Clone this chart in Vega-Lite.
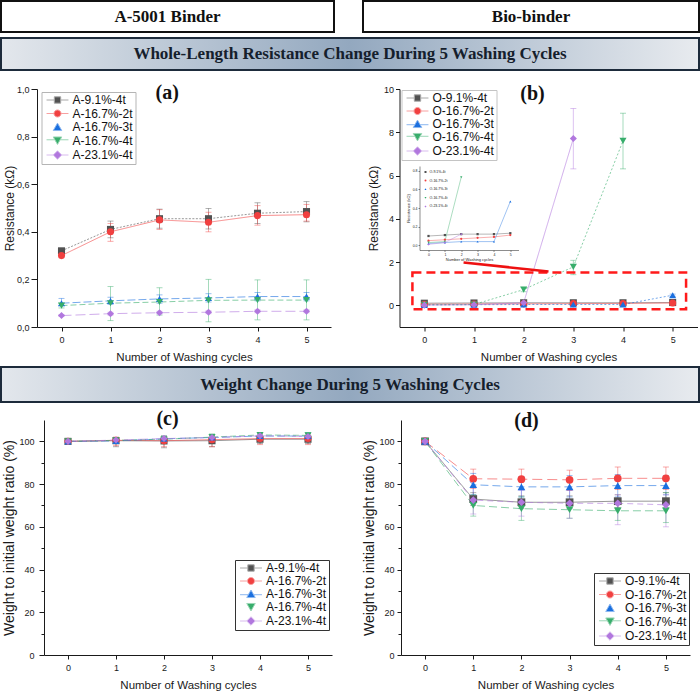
{
  "$schema": "https://vega.github.io/schema/vega-lite/v6.json",
  "background": "white",
  "padding": 0,
  "config": {
    "view": {"stroke": null},
    "font": "Liberation Sans",
    "axis": {"labelFont": "Liberation Sans", "titleFont": "Liberation Sans", "labelFontSize": 9, "titleFontSize": 11.5, "titleFontWeight": "normal", "labelColor": "#1a1a1a", "titleColor": "#1a1a1a", "domainColor": "#1a1a1a", "tickColor": "#1a1a1a", "grid": false},
    "legend": {"labelFont": "Liberation Sans", "labelFontSize": 12, "labelColor": "#111111"},
    "title": {"font": "Liberation Serif", "fontWeight": "bold", "fontSize": 20, "color": "#111111", "anchor": "middle", "frame": "bounds", "baseline": "middle"}
  },
  "datasets": {
    "a": [
      {"s": "A-9.1%-4t", "c": 0, "v": 0.32, "lo": 0.31, "hi": 0.33},
      {"s": "A-9.1%-4t", "c": 1, "v": 0.41, "lo": 0.375, "hi": 0.445},
      {"s": "A-9.1%-4t", "c": 2, "v": 0.455, "lo": 0.415, "hi": 0.495},
      {"s": "A-9.1%-4t", "c": 3, "v": 0.455, "lo": 0.412, "hi": 0.498},
      {"s": "A-9.1%-4t", "c": 4, "v": 0.478, "lo": 0.435, "hi": 0.522},
      {"s": "A-9.1%-4t", "c": 5, "v": 0.485, "lo": 0.442, "hi": 0.527},
      {"s": "A-16.7%-2t", "c": 0, "v": 0.30, "lo": 0.295, "hi": 0.305},
      {"s": "A-16.7%-2t", "c": 1, "v": 0.40, "lo": 0.36, "hi": 0.435},
      {"s": "A-16.7%-2t", "c": 2, "v": 0.45, "lo": 0.41, "hi": 0.493},
      {"s": "A-16.7%-2t", "c": 3, "v": 0.44, "lo": 0.40, "hi": 0.482},
      {"s": "A-16.7%-2t", "c": 4, "v": 0.468, "lo": 0.428, "hi": 0.51},
      {"s": "A-16.7%-2t", "c": 5, "v": 0.472, "lo": 0.445, "hi": 0.515},
      {"s": "A-16.7%-3t", "c": 0, "v": 0.10, "lo": 0.09, "hi": 0.12},
      {"s": "A-16.7%-3t", "c": 1, "v": 0.11, "lo": 0.095, "hi": 0.125},
      {"s": "A-16.7%-3t", "c": 2, "v": 0.118, "lo": 0.10, "hi": 0.135},
      {"s": "A-16.7%-3t", "c": 3, "v": 0.122, "lo": 0.105, "hi": 0.14},
      {"s": "A-16.7%-3t", "c": 4, "v": 0.128, "lo": 0.11, "hi": 0.145},
      {"s": "A-16.7%-3t", "c": 5, "v": 0.128, "lo": 0.11, "hi": 0.145},
      {"s": "A-16.7%-4t", "c": 0, "v": 0.09, "lo": 0.08, "hi": 0.10},
      {"s": "A-16.7%-4t", "c": 1, "v": 0.10, "lo": 0.027, "hi": 0.17},
      {"s": "A-16.7%-4t", "c": 2, "v": 0.105, "lo": 0.05, "hi": 0.165},
      {"s": "A-16.7%-4t", "c": 3, "v": 0.112, "lo": 0.022, "hi": 0.20},
      {"s": "A-16.7%-4t", "c": 4, "v": 0.113, "lo": 0.03, "hi": 0.198},
      {"s": "A-16.7%-4t", "c": 5, "v": 0.113, "lo": 0.03, "hi": 0.198},
      {"s": "A-23.1%-4t", "c": 0, "v": 0.048, "lo": 0.045, "hi": 0.052},
      {"s": "A-23.1%-4t", "c": 1, "v": 0.056, "lo": 0.05, "hi": 0.062},
      {"s": "A-23.1%-4t", "c": 2, "v": 0.06, "lo": 0.055, "hi": 0.066},
      {"s": "A-23.1%-4t", "c": 3, "v": 0.062, "lo": 0.056, "hi": 0.068},
      {"s": "A-23.1%-4t", "c": 4, "v": 0.066, "lo": 0.06, "hi": 0.072},
      {"s": "A-23.1%-4t", "c": 5, "v": 0.066, "lo": 0.06, "hi": 0.072}
    ],
    "b": [
      {"s": "O-9.1%-4t", "c": 0, "v": 0.10, "lo": 0.09, "hi": 0.11},
      {"s": "O-9.1%-4t", "c": 1, "v": 0.11, "lo": 0.10, "hi": 0.12},
      {"s": "O-9.1%-4t", "c": 2, "v": 0.12, "lo": 0.11, "hi": 0.13},
      {"s": "O-9.1%-4t", "c": 3, "v": 0.12, "lo": 0.11, "hi": 0.13},
      {"s": "O-9.1%-4t", "c": 4, "v": 0.12, "lo": 0.11, "hi": 0.13},
      {"s": "O-9.1%-4t", "c": 5, "v": 0.13, "lo": 0.12, "hi": 0.14},
      {"s": "O-16.7%-2t", "c": 0, "v": 0.05, "lo": 0.04, "hi": 0.06},
      {"s": "O-16.7%-2t", "c": 1, "v": 0.06, "lo": 0.05, "hi": 0.07},
      {"s": "O-16.7%-2t", "c": 2, "v": 0.07, "lo": 0.06, "hi": 0.08},
      {"s": "O-16.7%-2t", "c": 3, "v": 0.08, "lo": 0.07, "hi": 0.09},
      {"s": "O-16.7%-2t", "c": 4, "v": 0.09, "lo": 0.08, "hi": 0.10},
      {"s": "O-16.7%-2t", "c": 5, "v": 0.11, "lo": 0.10, "hi": 0.12},
      {"s": "O-16.7%-3t", "c": 0, "v": 0.02, "lo": 0.01, "hi": 0.03},
      {"s": "O-16.7%-3t", "c": 1, "v": 0.03, "lo": 0.02, "hi": 0.04},
      {"s": "O-16.7%-3t", "c": 2, "v": 0.04, "lo": 0.03, "hi": 0.05},
      {"s": "O-16.7%-3t", "c": 3, "v": 0.04, "lo": 0.03, "hi": 0.05},
      {"s": "O-16.7%-3t", "c": 4, "v": 0.04, "lo": 0.03, "hi": 0.05},
      {"s": "O-16.7%-3t", "c": 5, "v": 0.47, "lo": 0.42, "hi": 0.52},
      {"s": "O-16.7%-4t", "c": 0, "v": 0.03, "lo": 0.02, "hi": 0.04},
      {"s": "O-16.7%-4t", "c": 1, "v": 0.04, "lo": 0.03, "hi": 0.05},
      {"s": "O-16.7%-4t", "c": 2, "v": 0.73, "lo": 0.63, "hi": 0.83},
      {"s": "O-16.7%-4t", "c": 3, "v": 1.78, "lo": 1.42, "hi": 2.08},
      {"s": "O-16.7%-4t", "c": 4, "v": 7.6, "lo": 6.31, "hi": 8.88},
      {"s": "O-23.1%-4t", "c": 0, "v": 0.01, "lo": 0.0, "hi": 0.02},
      {"s": "O-23.1%-4t", "c": 1, "v": 0.03, "lo": 0.02, "hi": 0.04},
      {"s": "O-23.1%-4t", "c": 2, "v": 0.12, "lo": 0.10, "hi": 0.14},
      {"s": "O-23.1%-4t", "c": 3, "v": 7.71, "lo": 6.31, "hi": 9.1}
    ],
    "c": [
      {"s": "A-9.1%-4t", "c": 0, "v": 100, "lo": 99.8, "hi": 100.2},
      {"s": "A-9.1%-4t", "c": 1, "v": 100.3, "lo": 97.5, "hi": 101.5},
      {"s": "A-9.1%-4t", "c": 2, "v": 100.2, "lo": 97, "hi": 102},
      {"s": "A-9.1%-4t", "c": 3, "v": 100.3, "lo": 97.5, "hi": 102.5},
      {"s": "A-9.1%-4t", "c": 4, "v": 101, "lo": 99, "hi": 102.5},
      {"s": "A-9.1%-4t", "c": 5, "v": 101, "lo": 99, "hi": 102.5},
      {"s": "A-16.7%-2t", "c": 0, "v": 100, "lo": 99.8, "hi": 100.2},
      {"s": "A-16.7%-2t", "c": 1, "v": 100.5, "lo": 98, "hi": 102},
      {"s": "A-16.7%-2t", "c": 2, "v": 100.3, "lo": 97.5, "hi": 102.5},
      {"s": "A-16.7%-2t", "c": 3, "v": 100.8, "lo": 97.5, "hi": 103},
      {"s": "A-16.7%-2t", "c": 4, "v": 101.3, "lo": 98.5, "hi": 103.5},
      {"s": "A-16.7%-2t", "c": 5, "v": 101.3, "lo": 98.5, "hi": 103.5},
      {"s": "A-16.7%-3t", "c": 0, "v": 100, "lo": 99.8, "hi": 100.2},
      {"s": "A-16.7%-3t", "c": 1, "v": 100.2, "lo": 99, "hi": 101.5},
      {"s": "A-16.7%-3t", "c": 2, "v": 101.2, "lo": 100, "hi": 102.5},
      {"s": "A-16.7%-3t", "c": 3, "v": 101.8, "lo": 100.5, "hi": 103},
      {"s": "A-16.7%-3t", "c": 4, "v": 102.5, "lo": 101, "hi": 104},
      {"s": "A-16.7%-3t", "c": 5, "v": 102.5, "lo": 101, "hi": 104},
      {"s": "A-16.7%-4t", "c": 0, "v": 100, "lo": 99.8, "hi": 100.2},
      {"s": "A-16.7%-4t", "c": 1, "v": 100.5, "lo": 99.5, "hi": 101.5},
      {"s": "A-16.7%-4t", "c": 2, "v": 101, "lo": 99, "hi": 102.5},
      {"s": "A-16.7%-4t", "c": 3, "v": 102, "lo": 100.5, "hi": 103.5},
      {"s": "A-16.7%-4t", "c": 4, "v": 103, "lo": 101.5, "hi": 104},
      {"s": "A-16.7%-4t", "c": 5, "v": 102.8, "lo": 101.5, "hi": 104},
      {"s": "A-23.1%-4t", "c": 0, "v": 100, "lo": 99.8, "hi": 100.2},
      {"s": "A-23.1%-4t", "c": 1, "v": 100.6, "lo": 99.8, "hi": 101.4},
      {"s": "A-23.1%-4t", "c": 2, "v": 101.3, "lo": 100.5, "hi": 102},
      {"s": "A-23.1%-4t", "c": 3, "v": 101.8, "lo": 101, "hi": 102.6},
      {"s": "A-23.1%-4t", "c": 4, "v": 102.6, "lo": 101.8, "hi": 103.4},
      {"s": "A-23.1%-4t", "c": 5, "v": 102.3, "lo": 101.5, "hi": 103}
    ],
    "d": [
      {"s": "O-9.1%-4t", "c": 0, "v": 100, "lo": 99.5, "hi": 100.5},
      {"s": "O-9.1%-4t", "c": 1, "v": 73, "lo": 70, "hi": 76},
      {"s": "O-9.1%-4t", "c": 2, "v": 71.5, "lo": 68.5, "hi": 74.5},
      {"s": "O-9.1%-4t", "c": 3, "v": 71.5, "lo": 68.5, "hi": 74.5},
      {"s": "O-9.1%-4t", "c": 4, "v": 72, "lo": 69, "hi": 75},
      {"s": "O-9.1%-4t", "c": 5, "v": 72, "lo": 69, "hi": 76},
      {"s": "O-16.7%-2t", "c": 0, "v": 100, "lo": 99.5, "hi": 100.5},
      {"s": "O-16.7%-2t", "c": 1, "v": 82.5, "lo": 78, "hi": 87},
      {"s": "O-16.7%-2t", "c": 2, "v": 82.3, "lo": 77.5, "hi": 87},
      {"s": "O-16.7%-2t", "c": 3, "v": 82, "lo": 77, "hi": 86.5},
      {"s": "O-16.7%-2t", "c": 4, "v": 82.7, "lo": 77.5, "hi": 88},
      {"s": "O-16.7%-2t", "c": 5, "v": 82.7, "lo": 77.5, "hi": 88},
      {"s": "O-16.7%-3t", "c": 0, "v": 100, "lo": 99.5, "hi": 100.5},
      {"s": "O-16.7%-3t", "c": 1, "v": 79.7, "lo": 75, "hi": 85},
      {"s": "O-16.7%-3t", "c": 2, "v": 78.7, "lo": 74, "hi": 83.5},
      {"s": "O-16.7%-3t", "c": 3, "v": 78.7, "lo": 74, "hi": 84},
      {"s": "O-16.7%-3t", "c": 4, "v": 79.3, "lo": 74, "hi": 84.5},
      {"s": "O-16.7%-3t", "c": 5, "v": 79.3, "lo": 75, "hi": 84},
      {"s": "O-16.7%-4t", "c": 0, "v": 100, "lo": 99.5, "hi": 100.5},
      {"s": "O-16.7%-4t", "c": 1, "v": 70, "lo": 65, "hi": 75},
      {"s": "O-16.7%-4t", "c": 2, "v": 68.5, "lo": 63, "hi": 74},
      {"s": "O-16.7%-4t", "c": 3, "v": 68, "lo": 64, "hi": 72},
      {"s": "O-16.7%-4t", "c": 4, "v": 67.5, "lo": 63, "hi": 72},
      {"s": "O-16.7%-4t", "c": 5, "v": 67.5, "lo": 62, "hi": 76},
      {"s": "O-23.1%-4t", "c": 0, "v": 100, "lo": 99.5, "hi": 100.5},
      {"s": "O-23.1%-4t", "c": 1, "v": 72.5, "lo": 66, "hi": 79},
      {"s": "O-23.1%-4t", "c": 2, "v": 71.5, "lo": 65, "hi": 77},
      {"s": "O-23.1%-4t", "c": 3, "v": 71, "lo": 64, "hi": 77},
      {"s": "O-23.1%-4t", "c": 4, "v": 71, "lo": 61, "hi": 75},
      {"s": "O-23.1%-4t", "c": 5, "v": 70.3, "lo": 60, "hi": 75}
    ],
    "zoomBox": [{"x1": -0.24, "x2": 5.27, "y1": -0.18, "y2": 1.52}],
    "pointer": [{"x1": 0.79, "y1": 1.98, "x2": 2.5, "y2": 1.57}]
  },
  "spacing": 3,
  "resolve": {"scale": {"color": "independent", "shape": "independent", "stroke": "independent", "strokeDash": "independent"}, "legend": {"color": "independent", "shape": "independent", "stroke": "independent", "strokeDash": "independent"}},
  "vconcat": [
    {
      "spacing": 11,
      "resolve": {"scale": {"color": "independent", "shape": "independent", "stroke": "independent", "strokeDash": "independent"}, "legend": {"color": "independent", "shape": "independent", "stroke": "independent", "strokeDash": "independent"}},
      "vconcat": [
        {
          "spacing": 4,
          "vconcat": [
            {
              "spacing": 27,
              "hconcat": [
                {
                  "width": 333, "height": 31,
                  "view": {"stroke": "#111111", "strokeWidth": 2, "fill": "white"},
                  "data": {"values": [{"label": "A-5001 Binder"}]},
                  "mark": {"type": "text", "font": "Liberation Serif", "fontWeight": "bold", "fontSize": 17, "color": "#111111"},
                  "encoding": {"text": {"field": "label"}}
                },
                {
                  "width": 336, "height": 31,
                  "view": {"stroke": "#111111", "strokeWidth": 2, "fill": "white"},
                  "data": {"values": [{"label": "Bio-binder"}]},
                  "mark": {"type": "text", "font": "Liberation Serif", "fontWeight": "bold", "fontSize": 17, "color": "#111111"},
                  "encoding": {"text": {"field": "label"}}
                }
              ]
            },
            {
              "width": 698, "height": 32,
              "data": {"values": [{"t": "Whole-Length Resistance Change During 5 Washing Cycles", "u0": 0, "u1": 1}]},
              "layer": [
                {
                  "mark": {"type": "rect", "stroke": "#1d2b3b", "strokeWidth": 2, "fill": {"gradient": "linear", "x1": 0, "y1": 0, "x2": 1, "y2": 0, "stops": [{"offset": 0, "color": "#e3e7ec"}, {"offset": 0.5, "color": "#93a8bf"}, {"offset": 1, "color": "#e8ebef"}]}},
                  "encoding": {
                    "x": {"field": "u0", "type": "quantitative", "scale": {"domain": [0, 1], "nice": false, "zero": false}, "axis": null},
                    "x2": {"field": "u1"},
                    "y": {"field": "u0", "type": "quantitative", "scale": {"domain": [0, 1], "nice": false, "zero": false}, "axis": null},
                    "y2": {"field": "u1"}
                  }
                },
                {
                  "mark": {"type": "text", "font": "Liberation Serif", "fontWeight": "bold", "fontSize": 17, "color": "#15202c"},
                  "encoding": {"text": {"field": "t"}}
                }
              ]
            }
          ]
        },
        {
          "spacing": 35.5,
          "resolve": {"scale": {"color": "independent", "shape": "independent", "stroke": "independent", "strokeDash": "independent"}, "legend": {"color": "independent", "shape": "independent", "stroke": "independent", "strokeDash": "independent"}},
          "hconcat": [
            {
              "spacing": 0,
              "resolve": {"scale": {"color": "independent", "shape": "independent", "stroke": "independent", "strokeDash": "independent"}, "legend": {"color": "independent", "shape": "independent", "stroke": "independent", "strokeDash": "independent"}},
              "hconcat": [
                {"width": 2, "height": 238, "data": {"values": []}, "mark": "point"},
                {
                  "width": 294, "height": 238,
                  "title": {"text": "(a)", "offset": -17.5},
                  "data": {"name": "a"},
                  "resolve": {"scale": {"color": "independent", "shape": "independent", "stroke": "independent"}, "legend": {"color": "independent", "shape": "independent", "stroke": "independent"}},
                  "layer": [
                    {
                      "layer": [
                        {
                          "mark": {"type": "rule", "strokeWidth": 1, "opacity": 0.45},
                          "encoding": {
                            "x": {"field": "c", "type": "quantitative", "scale": {"domain": [-0.5, 5.5], "nice": false, "zero": false}, "axis": {"values": [0, 1, 2, 3, 4, 5], "format": "d", "title": "Number of Washing cycles", "tickSize": 4, "labelPadding": 4, "titlePadding": 7}},
                            "y": {"field": "lo", "type": "quantitative", "scale": {"domain": [0, 1], "nice": false, "zero": false}, "axis": {"values": [0, 0.2, 0.4, 0.6, 0.8, 1], "labelExpr": "replace(format(datum.value, '.1f'), '.', ',')", "title": "Resistance (kΩ)", "titleFontSize": 12, "tickSize": 6, "labelPadding": 2, "titlePadding": 0}},
                            "y2": {"field": "hi"},
                            "color": {"field": "s", "type": "nominal", "scale": {"domain": ["A-9.1%-4t", "A-16.7%-2t", "A-16.7%-3t", "A-16.7%-4t", "A-23.1%-4t"], "range": ["#515151", "#F14040", "#1A6FDF", "#37AD6B", "#B177DE"]}, "legend": null}
                          }
                        },
                        {
                          "mark": {"type": "tick", "orient": "horizontal", "size": 6, "thickness": 1, "opacity": 0.45},
                          "encoding": {"x": {"field": "c", "type": "quantitative"}, "y": {"field": "lo", "type": "quantitative"}, "color": {"field": "s", "type": "nominal", "legend": null}}
                        },
                        {
                          "mark": {"type": "tick", "orient": "horizontal", "size": 6, "thickness": 1, "opacity": 0.45},
                          "encoding": {"x": {"field": "c", "type": "quantitative"}, "y": {"field": "hi", "type": "quantitative"}, "color": {"field": "s", "type": "nominal", "legend": null}}
                        },
                        {
                          "mark": {"type": "line", "strokeWidth": 1, "opacity": 0.6},
                          "encoding": {
                            "x": {"field": "c", "type": "quantitative"},
                            "y": {"field": "v", "type": "quantitative"},
                            "color": {"field": "s", "type": "nominal", "legend": null},
                            "strokeDash": {"field": "s", "type": "nominal", "scale": {"domain": ["A-23.1%-4t", "A-16.7%-4t", "A-16.7%-3t", "A-16.7%-2t", "A-9.1%-4t"], "range": [[10, 4], [6, 3], [8, 3], [1, 0], [2, 1.5]]}, "legend": null}
                          }
                        },
                        {
                          "mark": {"type": "point", "filled": true, "size": 50, "opacity": 1},
                          "encoding": {
                            "x": {"field": "c", "type": "quantitative"},
                            "y": {"field": "v", "type": "quantitative"},
                            "color": {"field": "s", "type": "nominal", "legend": null},
                            "shape": {"field": "s", "type": "nominal", "scale": {"domain": ["A-9.1%-4t", "A-16.7%-2t", "A-16.7%-3t", "A-16.7%-4t", "A-23.1%-4t"], "range": ["square", "circle", "triangle-up", "triangle-down", "diamond"]}, "legend": null}
                          }
                        }
                      ]
                    },
                    {
                      "mark": {"type": "point", "filled": true, "size": 50, "opacity": 0},
                      "encoding": {
                        "color": {"field": "s", "type": "nominal", "scale": {"domain": ["A-9.1%-4t", "A-16.7%-2t", "A-16.7%-3t", "A-16.7%-4t", "A-23.1%-4t"], "range": ["#515151", "#F14040", "#1A6FDF", "#37AD6B", "#B177DE"]},
                          "legend": {"orient": "none", "legendX": 4.5, "legendY": 3, "title": null, "strokeColor": "#b5b5b5", "fillColor": "white", "padding": 2, "rowPadding": 1.5, "symbolSize": 50, "symbolOffset": 8, "labelOffset": 9, "symbolOpacity": 1, "symbolStrokeWidth": 1}},
                        "shape": {"field": "s", "type": "nominal", "scale": {"domain": ["A-9.1%-4t", "A-16.7%-2t", "A-16.7%-3t", "A-16.7%-4t", "A-23.1%-4t"], "range": ["M-3.1,0H-0.9M0.9,0H3.1M-0.9,-0.9H0.9V0.9H-0.9Z", "M-3.1,0H-1M1,0H3.1M1,0A1,1,0,1,1,-1,0A1,1,0,1,1,1,0Z", "M0,-1.1L1.2,1H-1.2Z", "M-3.1,-0.2H-0.8M0.8,-0.2H3.1M0,1.1L1.2,-1H-1.2Z", "M-3.1,0H-1.2M1.2,0H3.1M0,-1.2L1.2,0L0,1.2L-1.2,0Z"]},
                          "legend": {"orient": "none", "legendX": 4.5, "legendY": 3, "title": null, "strokeColor": "#b5b5b5", "fillColor": "white", "padding": 2, "rowPadding": 1.5, "symbolSize": 50, "symbolOffset": 8, "labelOffset": 9, "symbolOpacity": 1, "symbolStrokeWidth": 1}},
                        "stroke": {"field": "s", "type": "nominal", "scale": {"domain": ["A-9.1%-4t", "A-16.7%-2t", "A-16.7%-3t", "A-16.7%-4t", "A-23.1%-4t"], "range": ["#a8a8a8", "#f8a0a0", "#8cb7ef", "#9bd6b5", "#d8bbee"]},
                          "legend": {"orient": "none", "legendX": 4.5, "legendY": 3, "title": null, "strokeColor": "#b5b5b5", "fillColor": "white", "padding": 2, "rowPadding": 1.5, "symbolSize": 50, "symbolOffset": 8, "labelOffset": 9, "symbolOpacity": 1, "symbolStrokeWidth": 1}}
                      }
                    }
                  ]
                }
              ]
            },
            {
              "width": 298, "height": 238,
              "title": {"text": "(b)", "offset": -18.5},
              "resolve": {"scale": {"x": "independent", "y": "independent", "color": "independent", "shape": "independent", "stroke": "independent", "strokeDash": "independent"}, "axis": {"x": "independent", "y": "independent"}, "legend": {"color": "independent", "shape": "independent", "stroke": "independent"}},
              "layer": [
                {
                  "layer": [
                    {
                      "data": {"name": "b"},
                      "mark": {"type": "rule", "strokeWidth": 1, "opacity": 0.45},
                      "encoding": {
                        "x": {"field": "c", "type": "quantitative", "scale": {"domain": [-0.5, 5.5], "nice": false, "zero": false}, "axis": {"values": [0, 1, 2, 3, 4, 5], "format": "d", "title": "Number of Washing cycles", "tickSize": 4, "labelPadding": 4, "titlePadding": 7}},
                        "y": {"field": "lo", "type": "quantitative", "scale": {"domain": [-1, 10], "nice": false, "zero": false}, "axis": {"values": [0, 2, 4, 6, 8, 10], "format": "d", "title": "Resistance (kΩ)", "titleFontSize": 12, "tickSize": 4, "labelPadding": 2, "titlePadding": 3}},
                        "y2": {"field": "hi"},
                        "color": {"field": "s", "type": "nominal", "scale": {"domain": ["O-9.1%-4t", "O-16.7%-2t", "O-16.7%-3t", "O-16.7%-4t", "O-23.1%-4t"], "range": ["#515151", "#F14040", "#1A6FDF", "#37AD6B", "#B177DE"]}, "legend": null}
                      }
                    },
                    {
                      "data": {"name": "b"},
                      "mark": {"type": "tick", "orient": "horizontal", "size": 6, "thickness": 1, "opacity": 0.45},
                      "encoding": {"x": {"field": "c", "type": "quantitative"}, "y": {"field": "lo", "type": "quantitative"}, "color": {"field": "s", "type": "nominal", "legend": null}}
                    },
                    {
                      "data": {"name": "b"},
                      "mark": {"type": "tick", "orient": "horizontal", "size": 6, "thickness": 1, "opacity": 0.45},
                      "encoding": {"x": {"field": "c", "type": "quantitative"}, "y": {"field": "hi", "type": "quantitative"}, "color": {"field": "s", "type": "nominal", "legend": null}}
                    },
                    {
                      "data": {"name": "b"},
                      "mark": {"type": "line", "strokeWidth": 1, "opacity": 0.6},
                      "encoding": {
                        "x": {"field": "c", "type": "quantitative"},
                        "y": {"field": "v", "type": "quantitative"},
                        "color": {"field": "s", "type": "nominal", "legend": null},
                        "strokeDash": {"field": "s", "type": "nominal", "scale": {"domain": ["O-23.1%-4t", "O-16.7%-4t", "O-16.7%-3t", "O-16.7%-2t", "O-9.1%-4t"], "range": [[1, 0], [2, 2], [2, 2], [1, 0], [1, 0]]}, "legend": null}
                      }
                    },
                    {
                      "data": {"name": "b"},
                      "mark": {"type": "point", "filled": true, "size": 50, "opacity": 1},
                      "encoding": {
                        "x": {"field": "c", "type": "quantitative"},
                        "y": {"field": "v", "type": "quantitative"},
                        "color": {"field": "s", "type": "nominal", "legend": null},
                        "shape": {"field": "s", "type": "nominal", "scale": {"domain": ["O-9.1%-4t", "O-16.7%-2t", "O-16.7%-3t", "O-16.7%-4t", "O-23.1%-4t"], "range": ["square", "circle", "triangle-up", "triangle-down", "diamond"]}, "legend": null}
                      }
                    },
                    {
                      "data": {"name": "zoomBox"},
                      "mark": {"type": "rect", "fill": null, "stroke": "#ff1a1a", "strokeWidth": 2.5, "strokeDash": [9, 5]},
                      "encoding": {"x": {"field": "x1", "type": "quantitative"}, "x2": {"field": "x2"}, "y": {"field": "y1", "type": "quantitative"}, "y2": {"field": "y2"}}
                    },
                    {
                      "data": {"name": "pointer"},
                      "mark": {"type": "rule", "stroke": "#ee1111", "strokeWidth": 2.5},
                      "encoding": {"x": {"field": "x1", "type": "quantitative"}, "x2": {"field": "x2"}, "y": {"field": "y1", "type": "quantitative"}, "y2": {"field": "y2"}}
                    }
                  ]
                },
                {
                  "data": {"name": "b"},
                  "transform": [{"filter": "datum.v <= 0.85"}],
                  "layer": [
                    {
                      "mark": {"type": "line", "strokeWidth": 0.6, "opacity": 0.7},
                      "encoding": {
                        "x": {"field": "c", "type": "quantitative", "scale": {"domain": [-0.55, 5.5], "range": [20, 119], "nice": false, "zero": false}, "axis": {"orient": "bottom", "offset": -77, "values": [0, 1, 2, 3, 4, 5], "format": "d", "title": "Number of Washing cycles", "labelFontSize": 3.5, "titleFontSize": 4, "tickSize": 1.5, "labelPadding": 1, "titlePadding": 1.5, "domainWidth": 0.5, "tickWidth": 0.5}},
                        "y": {"field": "v", "type": "quantitative", "scale": {"domain": [-0.05, 0.85], "range": [161, 77], "nice": false, "zero": false}, "axis": {"orient": "left", "offset": -20, "values": [0, 0.1, 0.2, 0.3, 0.4, 0.5, 0.6, 0.7, 0.8], "format": ".1f", "title": "Resistance (kΩ)", "labelFontSize": 3.5, "titleFontSize": 4, "tickSize": 1.5, "labelPadding": 1, "titlePadding": 1.5, "domainWidth": 0.5, "tickWidth": 0.5}},
                        "color": {"field": "s", "type": "nominal", "scale": {"domain": ["O-9.1%-4t", "O-16.7%-2t", "O-16.7%-3t", "O-16.7%-4t", "O-23.1%-4t"], "range": ["#515151", "#F14040", "#1A6FDF", "#37AD6B", "#B177DE"]}, "legend": null}
                      }
                    },
                    {
                      "mark": {"type": "point", "filled": true, "size": 5, "opacity": 1},
                      "encoding": {
                        "x": {"field": "c", "type": "quantitative"},
                        "y": {"field": "v", "type": "quantitative"},
                        "color": {"field": "s", "type": "nominal", "legend": null},
                        "shape": {"field": "s", "type": "nominal", "scale": {"domain": ["O-9.1%-4t", "O-16.7%-2t", "O-16.7%-3t", "O-16.7%-4t", "O-23.1%-4t"], "range": ["square", "circle", "triangle-up", "triangle-down", "diamond"]}, "legend": null}
                      }
                    }
                  ]
                },
                {
                  "data": {"name": "b"},
                  "mark": {"type": "point", "filled": true, "size": 50, "opacity": 0},
                  "encoding": {
                    "color": {"field": "s", "type": "nominal", "scale": {"domain": ["O-9.1%-4t", "O-16.7%-2t", "O-16.7%-3t", "O-16.7%-4t", "O-23.1%-4t"], "range": ["#515151", "#F14040", "#1A6FDF", "#37AD6B", "#B177DE"]},
                      "legend": {"orient": "none", "legendX": 2, "legendY": 1, "title": null, "strokeColor": "#c4c4c4", "fillColor": "white", "padding": 2, "rowPadding": 1, "symbolSize": 50, "symbolOffset": 8, "labelOffset": 9, "symbolOpacity": 1, "symbolStrokeWidth": 1}},
                    "shape": {"field": "s", "type": "nominal", "scale": {"domain": ["O-9.1%-4t", "O-16.7%-2t", "O-16.7%-3t", "O-16.7%-4t", "O-23.1%-4t"], "range": ["M-3.1,0H-0.9M0.9,0H3.1M-0.9,-0.9H0.9V0.9H-0.9Z", "M-3.1,0H-1M1,0H3.1M1,0A1,1,0,1,1,-1,0A1,1,0,1,1,1,0Z", "M-3.1,0.2H-0.8M0.8,0.2H3.1M0,-1.1L1.2,1H-1.2Z", "M-3.1,-0.2H-0.8M0.8,-0.2H3.1M0,1.1L1.2,-1H-1.2Z", "M-3.1,0H-1.2M1.2,0H3.1M0,-1.2L1.2,0L0,1.2L-1.2,0Z"]},
                      "legend": {"orient": "none", "legendX": 2, "legendY": 1, "title": null, "strokeColor": "#c4c4c4", "fillColor": "white", "padding": 2, "rowPadding": 1, "symbolSize": 50, "symbolOffset": 8, "labelOffset": 9, "symbolOpacity": 1, "symbolStrokeWidth": 1}},
                    "stroke": {"field": "s", "type": "nominal", "scale": {"domain": ["O-9.1%-4t", "O-16.7%-2t", "O-16.7%-3t", "O-16.7%-4t", "O-23.1%-4t"], "range": ["#a8a8a8", "#f8a0a0", "#8cb7ef", "#9bd6b5", "#d8bbee"]},
                      "legend": {"orient": "none", "legendX": 2, "legendY": 1, "title": null, "strokeColor": "#c4c4c4", "fillColor": "white", "padding": 2, "rowPadding": 1, "symbolSize": 50, "symbolOffset": 8, "labelOffset": 9, "symbolOpacity": 1, "symbolStrokeWidth": 1}}
                  }
                },
                {
                  "data": {"name": "b"},
                  "mark": {"type": "point", "filled": true, "size": 4, "opacity": 0},
                  "encoding": {
                    "color": {"field": "s", "type": "nominal", "scale": {"domain": ["O-9.1%-4t", "O-16.7%-2t", "O-16.7%-3t", "O-16.7%-4t", "O-23.1%-4t"], "range": ["#515151", "#F14040", "#1A6FDF", "#37AD6B", "#B177DE"]},
                      "legend": {"orient": "none", "legendX": 23, "legendY": 80, "title": null, "labelFontSize": 3.5, "symbolSize": 4, "rowPadding": 0.6, "padding": 1, "labelOffset": 2, "symbolOpacity": 1}},
                    "shape": {"field": "s", "type": "nominal", "scale": {"domain": ["O-9.1%-4t", "O-16.7%-2t", "O-16.7%-3t", "O-16.7%-4t", "O-23.1%-4t"], "range": ["square", "circle", "triangle-up", "triangle-down", "diamond"]},
                      "legend": {"orient": "none", "legendX": 23, "legendY": 80, "title": null, "labelFontSize": 3.5, "symbolSize": 4, "rowPadding": 0.6, "padding": 1, "labelOffset": 2, "symbolOpacity": 1}}
                  }
                }
              ]
            }
          ]
        }
      ]
    },
    {
      "spacing": 5,
      "resolve": {"scale": {"color": "independent", "shape": "independent", "stroke": "independent", "strokeDash": "independent"}, "legend": {"color": "independent", "shape": "independent", "stroke": "independent", "strokeDash": "independent"}},
      "vconcat": [
        {
          "width": 698, "height": 35,
          "data": {"values": [{"t": "Weight Change During 5 Washing Cycles", "u0": 0, "u1": 1}]},
          "layer": [
            {
              "mark": {"type": "rect", "stroke": "#1d2b3b", "strokeWidth": 2, "fill": {"gradient": "linear", "x1": 0, "y1": 0, "x2": 1, "y2": 0, "stops": [{"offset": 0, "color": "#e3e7ec"}, {"offset": 0.5, "color": "#93a8bf"}, {"offset": 1, "color": "#e8ebef"}]}},
              "encoding": {
                "x": {"field": "u0", "type": "quantitative", "scale": {"domain": [0, 1], "nice": false, "zero": false}, "axis": null},
                "x2": {"field": "u1"},
                "y": {"field": "u0", "type": "quantitative", "scale": {"domain": [0, 1], "nice": false, "zero": false}, "axis": null},
                "y2": {"field": "u1"}
              }
            },
            {
              "mark": {"type": "text", "font": "Liberation Serif", "fontWeight": "bold", "fontSize": 17, "color": "#15202c"},
              "encoding": {"text": {"field": "t"}}
            }
          ]
        },
        {
          "spacing": 30,
          "resolve": {"scale": {"color": "independent", "shape": "independent", "stroke": "independent", "strokeDash": "independent"}, "legend": {"color": "independent", "shape": "independent", "stroke": "independent", "strokeDash": "independent"}},
          "hconcat": [
            {
              "spacing": 0,
              "resolve": {"scale": {"color": "independent", "shape": "independent", "stroke": "independent", "strokeDash": "independent"}, "legend": {"color": "independent", "shape": "independent", "stroke": "independent", "strokeDash": "independent"}},
              "hconcat": [
                {"width": 0.5, "height": 235, "data": {"values": []}, "mark": "point"},
                {
                  "width": 288, "height": 235,
                  "title": {"text": "(c)", "offset": -8.6},
                  "data": {"name": "c"},
                  "resolve": {"axis": {"y": "independent"}, "scale": {"color": "independent", "shape": "independent", "stroke": "independent"}, "legend": {"color": "independent", "shape": "independent", "stroke": "independent"}},
                  "layer": [
                    {
                      "layer": [
                        {
                          "mark": {"type": "rule", "strokeWidth": 1, "opacity": 0.45},
                          "encoding": {
                            "x": {"field": "c", "type": "quantitative", "scale": {"domain": [-0.5, 5.5], "nice": false, "zero": false}, "axis": {"values": [0, 1, 2, 3, 4, 5], "format": "d", "title": "Number of Washing cycles", "tickSize": 4, "labelPadding": 4, "titlePadding": 7}},
                            "y": {"field": "lo", "type": "quantitative", "scale": {"domain": [0, 110], "nice": false, "zero": false}, "axis": {"orient": "left", "values": [0, 20, 40, 60, 80, 100], "title": "Weight to initial weight ratio (%)", "titleFontSize": 14, "tickSize": 5, "labelPadding": 5, "titlePadding": 2}},
                            "y2": {"field": "hi"},
                            "color": {"field": "s", "type": "nominal", "scale": {"domain": ["A-9.1%-4t", "A-16.7%-2t", "A-16.7%-3t", "A-16.7%-4t", "A-23.1%-4t"], "range": ["#515151", "#F14040", "#1A6FDF", "#37AD6B", "#B177DE"]}, "legend": null}
                          }
                        },
                        {
                          "mark": {"type": "tick", "orient": "horizontal", "size": 6, "thickness": 1, "opacity": 0.45},
                          "encoding": {"x": {"field": "c", "type": "quantitative"}, "y": {"field": "lo", "type": "quantitative"}, "color": {"field": "s", "type": "nominal", "legend": null}}
                        },
                        {
                          "mark": {"type": "tick", "orient": "horizontal", "size": 6, "thickness": 1, "opacity": 0.45},
                          "encoding": {"x": {"field": "c", "type": "quantitative"}, "y": {"field": "hi", "type": "quantitative"}, "color": {"field": "s", "type": "nominal", "legend": null}}
                        },
                        {
                          "mark": {"type": "line", "strokeWidth": 1, "opacity": 0.6},
                          "encoding": {
                            "x": {"field": "c", "type": "quantitative"},
                            "y": {"field": "v", "type": "quantitative"},
                            "color": {"field": "s", "type": "nominal", "legend": null},
                            "strokeDash": {"field": "s", "type": "nominal", "scale": {"domain": ["A-23.1%-4t", "A-16.7%-4t", "A-16.7%-3t", "A-16.7%-2t", "A-9.1%-4t"], "range": [[10, 4], [6, 3], [8, 3], [1, 0], [1, 0]]}, "legend": null}
                          }
                        },
                        {
                          "mark": {"type": "point", "filled": true, "size": 50, "opacity": 1},
                          "encoding": {
                            "x": {"field": "c", "type": "quantitative"},
                            "y": {"field": "v", "type": "quantitative"},
                            "color": {"field": "s", "type": "nominal", "legend": null},
                            "shape": {"field": "s", "type": "nominal", "scale": {"domain": ["A-9.1%-4t", "A-16.7%-2t", "A-16.7%-3t", "A-16.7%-4t", "A-23.1%-4t"], "range": ["square", "circle", "triangle-up", "triangle-down", "diamond"]}, "legend": null}
                          }
                        }
                      ]
                    },
                    {
                      "mark": {"type": "point", "opacity": 0},
                      "encoding": {
                        "x": {"field": "c", "type": "quantitative"},
                        "y": {"field": "v", "type": "quantitative", "axis": {"orient": "left", "values": [10, 30, 50, 70, 90], "labels": false, "domain": false, "tickSize": 3, "title": null}}
                      }
                    },
                    {
                      "mark": {"type": "point", "filled": true, "size": 50, "opacity": 0},
                      "encoding": {
                        "color": {"field": "s", "type": "nominal", "scale": {"domain": ["A-9.1%-4t", "A-16.7%-2t", "A-16.7%-3t", "A-16.7%-4t", "A-23.1%-4t"], "range": ["#515151", "#F14040", "#1A6FDF", "#37AD6B", "#B177DE"]},
                          "legend": {"orient": "none", "legendX": 191, "legendY": 140, "title": null, "strokeColor": "#333333", "fillColor": "white", "padding": 2, "rowPadding": 1, "symbolSize": 50, "symbolOffset": 8, "labelOffset": 9, "symbolOpacity": 1, "symbolStrokeWidth": 1}},
                        "shape": {"field": "s", "type": "nominal", "scale": {"domain": ["A-9.1%-4t", "A-16.7%-2t", "A-16.7%-3t", "A-16.7%-4t", "A-23.1%-4t"], "range": ["M-3.1,0H-0.9M0.9,0H3.1M-0.9,-0.9H0.9V0.9H-0.9Z", "M-3.1,0H-1M1,0H3.1M1,0A1,1,0,1,1,-1,0A1,1,0,1,1,1,0Z", "M-3.1,0.2H-0.8M0.8,0.2H3.1M0,-1.1L1.2,1H-1.2Z", "M0,1.1L1.2,-1H-1.2Z", "M-3.1,0H-1.2M1.2,0H3.1M0,-1.2L1.2,0L0,1.2L-1.2,0Z"]},
                          "legend": {"orient": "none", "legendX": 191, "legendY": 140, "title": null, "strokeColor": "#333333", "fillColor": "white", "padding": 2, "rowPadding": 1, "symbolSize": 50, "symbolOffset": 8, "labelOffset": 9, "symbolOpacity": 1, "symbolStrokeWidth": 1}},
                        "stroke": {"field": "s", "type": "nominal", "scale": {"domain": ["A-9.1%-4t", "A-16.7%-2t", "A-16.7%-3t", "A-16.7%-4t", "A-23.1%-4t"], "range": ["#a8a8a8", "#f8a0a0", "#8cb7ef", "#9bd6b5", "#d8bbee"]},
                          "legend": {"orient": "none", "legendX": 191, "legendY": 140, "title": null, "strokeColor": "#333333", "fillColor": "white", "padding": 2, "rowPadding": 1, "symbolSize": 50, "symbolOffset": 8, "labelOffset": 9, "symbolOpacity": 1, "symbolStrokeWidth": 1}}
                      }
                    }
                  ]
                }
              ]
            },
            {
              "width": 289, "height": 235,
              "title": {"text": "(d)", "offset": -10.6},
              "data": {"name": "d"},
              "resolve": {"axis": {"y": "independent"}, "scale": {"color": "independent", "shape": "independent", "stroke": "independent"}, "legend": {"color": "independent", "shape": "independent", "stroke": "independent"}},
              "layer": [
                {
                  "layer": [
                    {
                      "mark": {"type": "rule", "strokeWidth": 1, "opacity": 0.45},
                      "encoding": {
                        "x": {"field": "c", "type": "quantitative", "scale": {"domain": [-0.5, 5.5], "nice": false, "zero": false}, "axis": {"values": [0, 1, 2, 3, 4, 5], "format": "d", "title": "Number of Washing cycles", "tickSize": 4, "labelPadding": 4, "titlePadding": 7}},
                        "y": {"field": "lo", "type": "quantitative", "scale": {"domain": [0, 110], "nice": false, "zero": false}, "axis": {"orient": "left", "values": [0, 20, 40, 60, 80, 100], "title": "Weight to initial weight ratio (%)", "titleFontSize": 14, "tickSize": 4, "labelPadding": 3, "titlePadding": 2}},
                        "y2": {"field": "hi"},
                        "color": {"field": "s", "type": "nominal", "scale": {"domain": ["O-9.1%-4t", "O-16.7%-2t", "O-16.7%-3t", "O-16.7%-4t", "O-23.1%-4t"], "range": ["#515151", "#F14040", "#1A6FDF", "#37AD6B", "#B177DE"]}, "legend": null}
                      }
                    },
                    {
                      "mark": {"type": "tick", "orient": "horizontal", "size": 6, "thickness": 1, "opacity": 0.45},
                      "encoding": {"x": {"field": "c", "type": "quantitative"}, "y": {"field": "lo", "type": "quantitative"}, "color": {"field": "s", "type": "nominal", "legend": null}}
                    },
                    {
                      "mark": {"type": "tick", "orient": "horizontal", "size": 6, "thickness": 1, "opacity": 0.45},
                      "encoding": {"x": {"field": "c", "type": "quantitative"}, "y": {"field": "hi", "type": "quantitative"}, "color": {"field": "s", "type": "nominal", "legend": null}}
                    },
                    {
                      "mark": {"type": "line", "strokeWidth": 1, "opacity": 0.6},
                      "encoding": {
                        "x": {"field": "c", "type": "quantitative"},
                        "y": {"field": "v", "type": "quantitative"},
                        "color": {"field": "s", "type": "nominal", "legend": null},
                        "strokeDash": {"field": "s", "type": "nominal", "scale": {"domain": ["O-23.1%-4t", "O-16.7%-4t", "O-16.7%-3t", "O-16.7%-2t", "O-9.1%-4t"], "range": [[6, 4], [8, 4], [8, 4], [10, 5], [1, 0]]}, "legend": null}
                      }
                    },
                    {
                      "mark": {"type": "point", "filled": true, "size": 60, "opacity": 1},
                      "encoding": {
                        "x": {"field": "c", "type": "quantitative"},
                        "y": {"field": "v", "type": "quantitative"},
                        "color": {"field": "s", "type": "nominal", "legend": null},
                        "shape": {"field": "s", "type": "nominal", "scale": {"domain": ["O-9.1%-4t", "O-16.7%-2t", "O-16.7%-3t", "O-16.7%-4t", "O-23.1%-4t"], "range": ["square", "circle", "triangle-up", "triangle-down", "diamond"]}, "legend": null}
                      }
                    }
                  ]
                },
                {
                  "mark": {"type": "point", "opacity": 0},
                  "encoding": {
                    "x": {"field": "c", "type": "quantitative"},
                    "y": {"field": "v", "type": "quantitative", "axis": {"orient": "left", "values": [10, 30, 50, 70, 90], "labels": false, "domain": false, "tickSize": 3, "title": null}}
                  }
                },
                {
                  "mark": {"type": "point", "filled": true, "size": 50, "opacity": 0},
                  "encoding": {
                    "color": {"field": "s", "type": "nominal", "scale": {"domain": ["O-9.1%-4t", "O-16.7%-2t", "O-16.7%-3t", "O-16.7%-4t", "O-23.1%-4t"], "range": ["#515151", "#F14040", "#1A6FDF", "#37AD6B", "#B177DE"]},
                      "legend": {"orient": "none", "legendX": 193, "legendY": 153, "title": null, "strokeColor": "#333333", "fillColor": "white", "padding": 2, "rowPadding": 1.5, "symbolSize": 50, "symbolOffset": 8, "labelOffset": 9, "symbolOpacity": 1, "symbolStrokeWidth": 1}},
                    "shape": {"field": "s", "type": "nominal", "scale": {"domain": ["O-9.1%-4t", "O-16.7%-2t", "O-16.7%-3t", "O-16.7%-4t", "O-23.1%-4t"], "range": ["M-3.1,0H-0.9M0.9,0H3.1M-0.9,-0.9H0.9V0.9H-0.9Z", "M-3.1,0H-1M1,0H3.1M1,0A1,1,0,1,1,-1,0A1,1,0,1,1,1,0Z", "M0,-1.1L1.2,1H-1.2Z", "M-3.1,-0.2H-0.8M0.8,-0.2H3.1M0,1.1L1.2,-1H-1.2Z", "M-3.1,0H-1.2M1.2,0H3.1M0,-1.2L1.2,0L0,1.2L-1.2,0Z"]},
                      "legend": {"orient": "none", "legendX": 193, "legendY": 153, "title": null, "strokeColor": "#333333", "fillColor": "white", "padding": 2, "rowPadding": 1.5, "symbolSize": 50, "symbolOffset": 8, "labelOffset": 9, "symbolOpacity": 1, "symbolStrokeWidth": 1}},
                    "stroke": {"field": "s", "type": "nominal", "scale": {"domain": ["O-9.1%-4t", "O-16.7%-2t", "O-16.7%-3t", "O-16.7%-4t", "O-23.1%-4t"], "range": ["#a8a8a8", "#f8a0a0", "#8cb7ef", "#9bd6b5", "#d8bbee"]},
                      "legend": {"orient": "none", "legendX": 193, "legendY": 153, "title": null, "strokeColor": "#333333", "fillColor": "white", "padding": 2, "rowPadding": 1.5, "symbolSize": 50, "symbolOffset": 8, "labelOffset": 9, "symbolOpacity": 1, "symbolStrokeWidth": 1}}
                  }
                }
              ]
            }
          ]
        }
      ]
    }
  ]
}
